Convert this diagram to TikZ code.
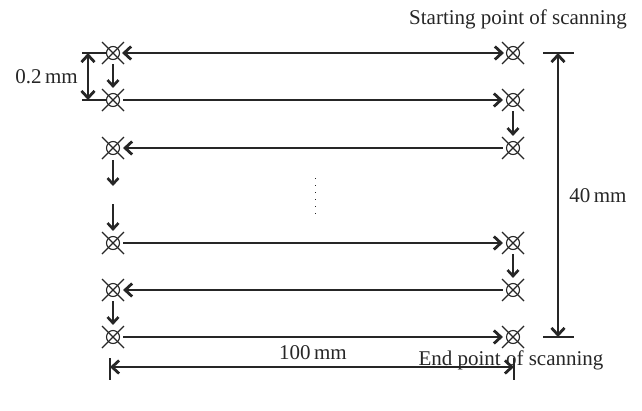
\documentclass[tikz,border=0pt]{standalone}
\usepackage{fontspec}
\setmainfont{Liberation Serif}
\usetikzlibrary{arrows.meta}
\definecolor{ink}{gray}{0.15}
\begin{document}
\begin{tikzpicture}[x=1pt,y=-1pt,ink,
  pt/.style={circle,draw,line width=1.1pt,minimum size=13pt,inner sep=0pt},
  tipb/.tip={Straight Barb[length=7pt,width=13pt,line width=2.8pt]},
  tips/.tip={Straight Barb[length=6pt,width=11pt,line width=2.6pt]},
  arr/.style={line width=2.3pt,-tipb},
  darr/.style={line width=2.3pt,tipb-tipb},
  vdn/.style={line width=2.3pt,-tips},
  tick/.style={line width=1.2pt},
  lbl/.style={font=\fontsize{21}{24}\selectfont,inner sep=0pt}]
\useasboundingbox (0,0) rectangle (642,410);
% points
\node[pt] (L1) at (113,53) {};
\node[pt] (L2) at (113,100) {};
\node[pt] (L3) at (113,148) {};
\node[pt] (L4) at (113,243) {};
\node[pt] (L5) at (113,290) {};
\node[pt] (L6) at (113,337) {};
\node[pt] (R1) at (513,53) {};
\node[pt] (R2) at (513,100) {};
\node[pt] (R3) at (513,148) {};
\node[pt] (R4) at (513,243) {};
\node[pt] (R5) at (513,290) {};
\node[pt] (R6) at (513,337) {};
\foreach \n in {L1,L2,L3,L4,L5,L6,R1,R2,R3,R4,R5,R6}{
  \draw[line width=1.1pt] (\n.center) +(-11,-11) -- +(11,11);
  \draw[line width=1.1pt] (\n.center) +(-11,11) -- +(11,-11);
}
% horizontal scan lines
\draw[darr,shorten <=2pt,shorten >=2pt] (L1) -- (R1);
\draw[arr,shorten <=3pt,shorten >=3pt] (L2) -- (R2);
\draw[arr,shorten <=3pt,shorten >=3pt] (R3) -- (L3);
\draw[arr,shorten <=3pt,shorten >=3pt] (L4) -- (R4);
\draw[arr,shorten <=3pt,shorten >=3pt] (R5) -- (L5);
\draw[arr,shorten <=3pt,shorten >=3pt] (L6) -- (R6);
% vertical steps
\draw[vdn,shorten <=4pt,shorten >=5pt] (L1) -- (L2);
\draw[vdn,shorten <=4pt,shorten >=5pt] (R2) -- (R3);
\coordinate (c3) at (113,186);
\coordinate (c4) at (113,204);
\draw[vdn,shorten <=5pt] (L3) -- (c3);
\draw[vdn,shorten >=5pt] (c4) -- (L4);
\draw[vdn,shorten <=4pt,shorten >=5pt] (R4) -- (R5);
\draw[vdn,shorten <=4pt,shorten >=5pt] (L5) -- (L6);
% dots
\coordinate (d1) at (315,178);
\coordinate (d2) at (315,220);
\draw[line width=0.8pt,dash pattern=on 1pt off 6pt] (d1) -- (d2);
% 0.2 mm dimension
\coordinate (a1) at (82,53);
\coordinate (a2) at (82,100);
\draw[tick] (a1) -- (L1.west);
\draw[tick] (a2) -- (L2.west);
\draw[darr] ([xshift=6pt]a1) -- ([xshift=6pt]a2);
\node[lbl,anchor=east] (t02) at (78,77) {0.2\,mm};
% 40 mm dimension
\coordinate (b1) at (543,53);
\coordinate (b2) at (574,53);
\coordinate (b3) at (543,337);
\coordinate (b4) at (574,337);
\draw[tick] (b1) -- (b2);
\draw[tick] (b3) -- (b4);
\draw[darr] (558,53) -- (558,337);
\node[lbl] (t40) at (598,196) {40\,mm};
% 100 mm dimension
\coordinate (e1) at (110,358);
\coordinate (e2) at (110,380);
\coordinate (e3) at (514,358);
\coordinate (e4) at (514,380);
\draw[tick] (e1) -- (e2);
\draw[tick] (e3) -- (e4);
\draw[darr] (110,367) -- (514,367);
\node[lbl] (t100) at (313,353) {100\,mm};
% captions
\node[lbl] (ts) at (518,19) {Starting point of scanning};
\node[lbl] (te) at (511,360) {End point of scanning};
\end{tikzpicture}
\end{document}
